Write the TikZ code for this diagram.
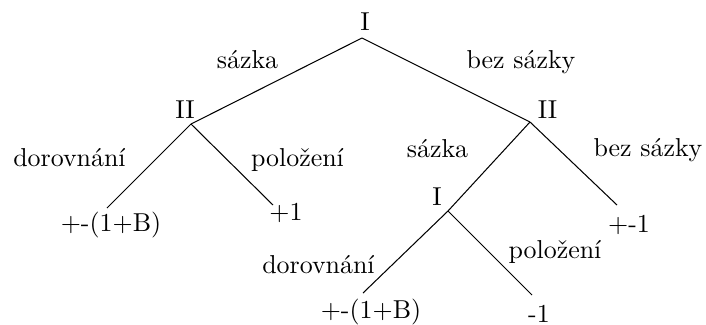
\documentclass[tikz,border=0pt]{standalone}
\begin{document}
\begin{tikzpicture}[x=0.386pt,y=-0.386pt,
  lbl/.style={anchor=base,inner sep=0pt,outer sep=0pt},
  edge/.style={draw=black,line width=0.4pt}]
\useasboundingbox (0,0) rectangle (706,324);
% vertices
\coordinate (r) at (362,38);
\coordinate (L) at (191,124);
\coordinate (R) at (530,122);
\coordinate (La) at (107,208);
\coordinate (Lb) at (273,205);
\coordinate (Ri) at (448,211);
\coordinate (Rr) at (617,205);
\coordinate (Ria) at (363,293);
\coordinate (Rib) at (532,295);
% edges
\draw[edge] (r) -- (L);
\draw[edge] (r) -- (R);
\draw[edge] (L) -- (La);
\draw[edge] (L) -- (Lb);
\draw[edge] (R) -- (Ri);
\draw[edge] (R) -- (Rr);
\draw[edge] (Ri) -- (Ria);
\draw[edge] (Ri) -- (Rib);
% labels
\node[lbl] (tI) at (365,30) {I};
\node[lbl] (tIIa) at (185,118) {II};
\node[lbl] (tIIb) at (547.5,118) {II};
\node[lbl] (s1) at (247.5,68) {sázka};
\node[lbl] (b1) at (521,68) {bez sázky};
\node[lbl] (d1) at (69.5,166) {dorovnání};
\node[lbl] (p1) at (297.5,166) {položení};
\node[lbl] (v1) at (111,231) {+-(1+B)};
\node[lbl] (v2) at (286,220) {+1};
\node[lbl] (s2) at (437.5,157) {sázka};
\node[lbl] (b2) at (648,156) {bez sázky};
\node[lbl] (tI2) at (437,205) {I};
\node[lbl] (v3) at (629,232) {+-1};
\node[lbl] (p2) at (555,258) {položení};
\node[lbl] (d2) at (318.5,273) {dorovnání};
\node[lbl] (v4) at (371,318) {+-(1+B)};
\node[lbl] (v5) at (539,322) {-1};
\end{tikzpicture}
\end{document}
